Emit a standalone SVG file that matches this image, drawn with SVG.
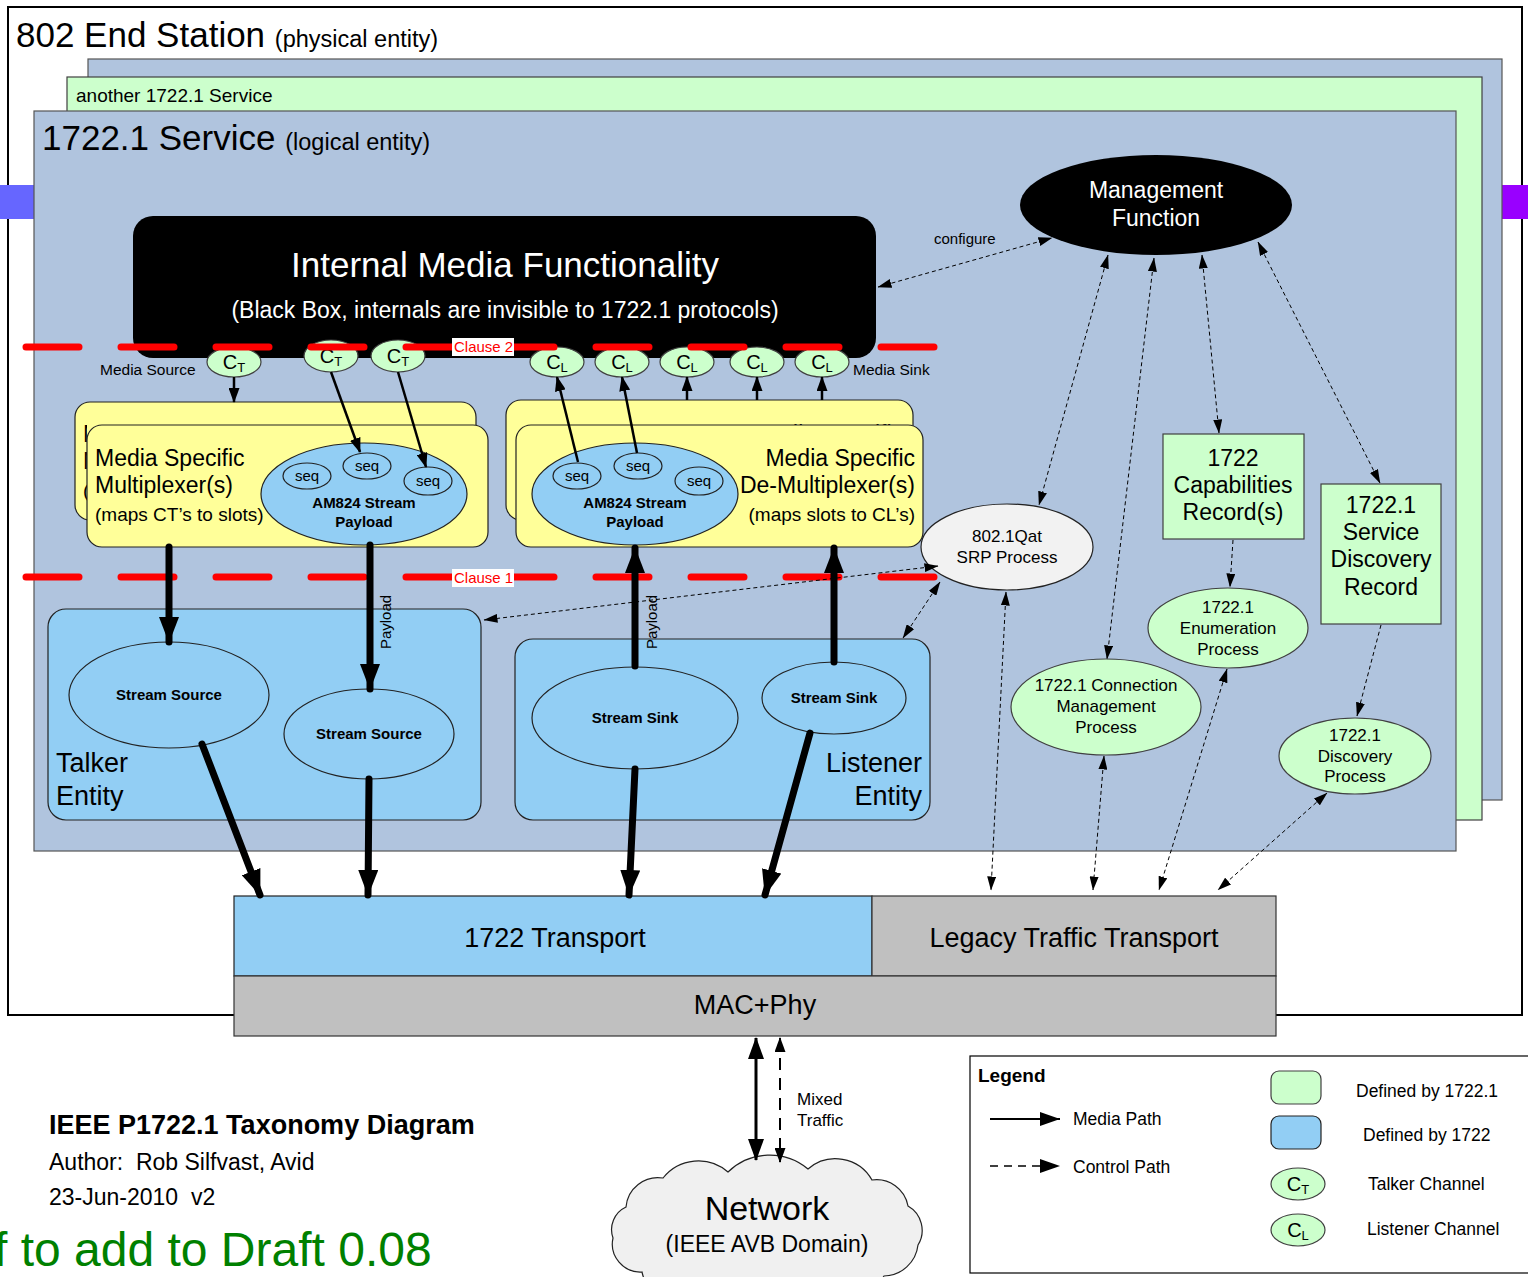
<svg xmlns="http://www.w3.org/2000/svg" width="1528" height="1277" viewBox="0 0 1528 1277">
<defs>
<style>
text{font-family:"Liberation Sans",Arial,sans-serif;fill:#000}
.svc{fill:#B0C4DE;stroke:#555;stroke-width:1.2}
.grn{fill:#CCFFCC;stroke:#404040;stroke-width:1.2}
.yel{fill:#FFFF99;stroke:#222;stroke-width:1.2}
.blu{fill:#92CEF4;stroke:#222;stroke-width:1.2}
.gry{fill:#C0C0C0;stroke:#333;stroke-width:1.2}
.ctrl{fill:none;stroke:#000;stroke-width:1;stroke-dasharray:4 3}
.thick{fill:none;stroke:#000;stroke-width:7;stroke-linecap:round}
.med{fill:none;stroke:#000;stroke-width:2.5}
.red{fill:none;stroke:#FF0000;stroke-width:7;stroke-linecap:round;stroke-dasharray:53 42}
.b{font-weight:bold}
.ch{font-size:20px;text-anchor:middle}
.sub{font-size:13px}
.mid{text-anchor:middle}
.end{text-anchor:end}
</style>
<clipPath id="muxBackClip"><rect x="70" y="398" width="17" height="130"/></clipPath>
<marker id="mThick" markerUnits="userSpaceOnUse" viewBox="0 0 26 20" refX="25" refY="10" markerWidth="26" markerHeight="20" orient="auto-start-reverse"><path d="M0,0 L26,10 L0,20 z" fill="#000"/></marker>
<marker id="mMed" markerUnits="userSpaceOnUse" viewBox="0 0 15 11" refX="14" refY="5.5" markerWidth="15" markerHeight="11" orient="auto-start-reverse"><path d="M0,0 L15,5.5 L0,11 z" fill="#000"/></marker>
<marker id="mCtl" markerUnits="userSpaceOnUse" viewBox="0 0 14 9" refX="13.5" refY="4.5" markerWidth="14" markerHeight="9" orient="auto-start-reverse"><path d="M0,0 L14,4.5 L0,9 z" fill="#000"/></marker>
<marker id="mBig" markerUnits="userSpaceOnUse" viewBox="0 0 22 16" refX="21" refY="8" markerWidth="22" markerHeight="16" orient="auto-start-reverse"><path d="M0,0 L22,8 L0,16 z" fill="#000"/></marker>
<marker id="mLeg" markerUnits="userSpaceOnUse" viewBox="0 0 20 14" refX="20" refY="7" markerWidth="20" markerHeight="14" orient="auto"><path d="M0,0 L20,7 L0,14 z" fill="#000"/></marker>
</defs>

<rect x="0" y="0" width="1528" height="1277" fill="#FFFFFF"/>

<g id="end-station">
<rect x="8" y="7" width="1514" height="1008" fill="#FFFFFF" stroke="#000" stroke-width="2"/>
<rect x="0" y="185" width="34" height="34" fill="#6666FF"/>
<rect x="1502" y="185" width="26" height="34" fill="#9900FF"/>
<text x="16" y="47" font-size="35">802 End Station <tspan font-size="23.5">(physical entity)</tspan></text>
</g>

<g id="service-back">
<rect x="88" y="59" width="1414" height="741" class="svc"/>
</g>
<g id="service-another">
<rect x="67" y="77" width="1415" height="743" class="grn"/>
<text x="76" y="102" font-size="19">another 1722.1 Service</text>
</g>
<g id="service-main">
<rect x="34" y="111" width="1422" height="740" class="svc"/>
<text x="42" y="150" font-size="35">1722.1 Service <tspan font-size="23.5">(logical entity)</tspan></text>
</g>

<g id="internal-media">
<rect x="133" y="216" width="743" height="142" rx="20" fill="#000"/>
<text x="505" y="277" font-size="35" class="mid" style="fill:#FFF">Internal Media Functionality</text>
<text x="505" y="318" font-size="23" class="mid" style="fill:#FFF">(Black Box, internals are invisible to 1722.1 protocols)</text>
</g>

<g id="mux-back">
<rect x="75" y="402" width="401" height="118" rx="15" class="yel"/>
<g clip-path="url(#muxBackClip)">
<text x="83" y="442" font-size="23">Media Specific</text>
<text x="83" y="469" font-size="23">Multiplexer(s)</text>
<text x="83" y="497" font-size="19">(maps CT’s to slots)</text>
</g>
</g>
<g id="mux">
<rect x="87" y="425" width="401" height="122" rx="15" class="yel"/>
<text x="95" y="466" font-size="23">Media Specific</text>
<text x="95" y="493" font-size="23">Multiplexer(s)</text>
<text x="95" y="521" font-size="19">(maps CT’s to slots)</text>
</g>
<g id="mux-payload">
<ellipse cx="364" cy="494" rx="103" ry="51" class="blu"/>
<ellipse cx="307" cy="476" rx="24" ry="13" class="blu"/>
<ellipse cx="367" cy="466" rx="24" ry="13" class="blu"/>
<ellipse cx="428" cy="481" rx="24" ry="14" class="blu"/>
<text x="307" y="481" font-size="15" class="mid">seq</text>
<text x="367" y="471" font-size="15" class="mid">seq</text>
<text x="428" y="486" font-size="15" class="mid">seq</text>
<text x="364" y="508" font-size="15" class="mid b">AM824 Stream</text>
<text x="364" y="527" font-size="15" class="mid b">Payload</text>
</g>

<g id="demux-back">
<rect x="506" y="400" width="407" height="120" rx="15" class="yel"/>
<text x="903" y="442" font-size="23" class="end">Media Specific</text>
</g>
<g id="demux">
<rect x="516" y="425" width="407" height="122" rx="15" class="yel"/>
<text x="915" y="466" font-size="23" class="end">Media Specific</text>
<text x="915" y="493" font-size="23" class="end">De-Multiplexer(s)</text>
<text x="915" y="521" font-size="19" class="end">(maps slots to CL’s)</text>
</g>
<g id="demux-payload">
<ellipse cx="635" cy="494" rx="103" ry="51" class="blu"/>
<ellipse cx="577" cy="476" rx="24" ry="13" class="blu"/>
<ellipse cx="638" cy="466" rx="24" ry="13" class="blu"/>
<ellipse cx="699" cy="481" rx="24" ry="14" class="blu"/>
<text x="577" y="481" font-size="15" class="mid">seq</text>
<text x="638" y="471" font-size="15" class="mid">seq</text>
<text x="699" y="486" font-size="15" class="mid">seq</text>
<text x="635" y="508" font-size="15" class="mid b">AM824 Stream</text>
<text x="635" y="527" font-size="15" class="mid b">Payload</text>
</g>

<g id="talker-channels">
<ellipse cx="234" cy="362" rx="27" ry="15" class="grn"/>
<ellipse cx="331" cy="356" rx="27" ry="16" class="grn"/>
<ellipse cx="398" cy="356" rx="27" ry="16" class="grn"/>
<text x="234" y="369" class="ch">C<tspan class="sub" dy="3">T</tspan></text>
<text x="331" y="363" class="ch">C<tspan class="sub" dy="3">T</tspan></text>
<text x="398" y="363" class="ch">C<tspan class="sub" dy="3">T</tspan></text>
<text x="100" y="375" font-size="15.5">Media Source</text>
</g>
<g id="listener-channels">
<ellipse cx="557" cy="362" rx="27" ry="15" class="grn"/>
<ellipse cx="622" cy="362" rx="27" ry="15" class="grn"/>
<ellipse cx="687" cy="362" rx="27" ry="15" class="grn"/>
<ellipse cx="757" cy="362" rx="27" ry="15" class="grn"/>
<ellipse cx="822" cy="362" rx="27" ry="15" class="grn"/>
<text x="557" y="369" class="ch">C<tspan class="sub" dy="3">L</tspan></text>
<text x="622" y="369" class="ch">C<tspan class="sub" dy="3">L</tspan></text>
<text x="687" y="369" class="ch">C<tspan class="sub" dy="3">L</tspan></text>
<text x="757" y="369" class="ch">C<tspan class="sub" dy="3">L</tspan></text>
<text x="822" y="369" class="ch">C<tspan class="sub" dy="3">L</tspan></text>
<text x="853" y="375" font-size="15.5">Media Sink</text>
</g>

<g id="talker-entity">
<rect x="48" y="609" width="433" height="211" rx="18" class="blu"/>
<ellipse cx="169" cy="695" rx="100" ry="53" class="blu"/>
<ellipse cx="369" cy="734" rx="85" ry="45" class="blu"/>
<text x="169" y="700" font-size="15" class="mid b">Stream Source</text>
<text x="369" y="739" font-size="15" class="mid b">Stream Source</text>
<text x="56" y="772" font-size="27">Talker</text>
<text x="56" y="805" font-size="27">Entity</text>
</g>
<g id="listener-entity">
<rect x="515" y="639" width="415" height="181" rx="18" class="blu"/>
<ellipse cx="635" cy="718" rx="103" ry="51" class="blu"/>
<ellipse cx="834" cy="698" rx="72" ry="36" class="blu"/>
<text x="635" y="723" font-size="15" class="mid b">Stream Sink</text>
<text x="834" y="703" font-size="15" class="mid b">Stream Sink</text>
<text x="922" y="772" font-size="27" class="end">Listener</text>
<text x="922" y="805" font-size="27" class="end">Entity</text>
</g>

<g id="management-function">
<ellipse cx="1156" cy="205" rx="136" ry="50" fill="#000"/>
<text x="1156" y="198" font-size="23" class="mid" style="fill:#FFF">Management</text>
<text x="1156" y="226" font-size="23" class="mid" style="fill:#FFF">Function</text>
</g>
<g id="srp">
<ellipse cx="1007" cy="547" rx="86" ry="43" fill="#F2F2F2" stroke="#222" stroke-width="1.2"/>
<text x="1007" y="542" font-size="17" class="mid">802.1Qat</text>
<text x="1007" y="563" font-size="17" class="mid">SRP Process</text>
</g>
<g id="capabilities">
<rect x="1163" y="434" width="141" height="105" class="grn"/>
<text x="1233" y="466" font-size="23" class="mid">1722</text>
<text x="1233" y="493" font-size="23" class="mid">Capabilities</text>
<text x="1233" y="520" font-size="23" class="mid">Record(s)</text>
</g>
<g id="service-discovery-record">
<rect x="1321" y="484" width="120" height="140" class="grn"/>
<text x="1381" y="513" font-size="23" class="mid">1722.1</text>
<text x="1381" y="540" font-size="23" class="mid">Service</text>
<text x="1381" y="567" font-size="23" class="mid">Discovery</text>
<text x="1381" y="595" font-size="23" class="mid">Record</text>
</g>
<g id="enumeration">
<ellipse cx="1228" cy="628" rx="80" ry="40" class="grn"/>
<text x="1228" y="613" font-size="17" class="mid">1722.1</text>
<text x="1228" y="634" font-size="17" class="mid">Enumeration</text>
<text x="1228" y="655" font-size="17" class="mid">Process</text>
</g>
<g id="connection-management">
<ellipse cx="1106" cy="707" rx="95" ry="48" class="grn"/>
<text x="1106" y="691" font-size="17" class="mid">1722.1 Connection</text>
<text x="1106" y="712" font-size="17" class="mid">Management</text>
<text x="1106" y="733" font-size="17" class="mid">Process</text>
</g>
<g id="discovery">
<ellipse cx="1355" cy="756" rx="76" ry="38" class="grn"/>
<text x="1355" y="741" font-size="17" class="mid">1722.1</text>
<text x="1355" y="762" font-size="17" class="mid">Discovery</text>
<text x="1355" y="782" font-size="17" class="mid">Process</text>
</g>

<g id="transport">
<rect x="234" y="896" width="638" height="80" class="blu"/>
<rect x="872" y="896" width="404" height="80" class="gry"/>
<rect x="234" y="976" width="1042" height="60" class="gry"/>
<text x="555" y="947" font-size="27" class="mid">1722 Transport</text>
<text x="1074" y="947" font-size="27" class="mid">Legacy Traffic Transport</text>
<text x="755" y="1014" font-size="27" class="mid">MAC+Phy</text>
</g>

<g id="clauses">
<line x1="26" y1="347" x2="936" y2="347" class="red"/>
<line x1="26" y1="577" x2="936" y2="577" class="red"/>
<rect x="452" y="338" width="62" height="18" fill="#FFF"/>
<text x="454" y="352" font-size="15" style="fill:#FF0000">Clause 2</text>
<rect x="452" y="569" width="62" height="18" fill="#FFF"/>
<text x="454" y="583" font-size="15" style="fill:#FF0000">Clause 1</text>
</g>

<g id="network">
<path d="M626,1207 A32,32 0 0 1 663,1178 A45,45 0 0 1 728,1172 A60,60 0 0 1 808,1169 A42,42 0 0 1 872,1180 A32,32 0 0 1 908,1206 A28,28 0 0 1 918,1245 A35,35 0 0 1 884,1276 A60,60 0 0 1 800,1292 A60,60 0 0 1 720,1292 A45,45 0 0 1 642,1272 A28,28 0 0 1 613,1238 A25,25 0 0 1 626,1207 Z" fill="#F0F0F0" stroke="#222" stroke-width="1.2"/>
<text x="767" y="1220" font-size="34" class="mid">Network</text>
<text x="767" y="1252" font-size="23" class="mid">(IEEE AVB Domain)</text>
</g>

<g id="connectors">
<line x1="234" y1="377" x2="234" y2="402" class="med" stroke-width="2" marker-end="url(#mMed)"/>
<line x1="331" y1="372" x2="360" y2="452" class="med" marker-end="url(#mMed)"/>
<line x1="398" y1="372" x2="426" y2="467" class="med" marker-end="url(#mMed)"/>
<line x1="578" y1="462" x2="557" y2="377" class="med" marker-end="url(#mMed)"/>
<line x1="637" y1="453" x2="622" y2="377" class="med" marker-end="url(#mMed)"/>
<line x1="687" y1="400" x2="687" y2="377" class="med" stroke-width="2" marker-end="url(#mMed)"/>
<line x1="757" y1="400" x2="757" y2="377" class="med" stroke-width="2" marker-end="url(#mMed)"/>
<line x1="822" y1="400" x2="822" y2="377" class="med" stroke-width="2" marker-end="url(#mMed)"/>

<line x1="169" y1="547" x2="169" y2="642" class="thick" marker-end="url(#mThick)"/>
<line x1="370" y1="545" x2="370" y2="689" class="thick" marker-end="url(#mThick)"/>
<line x1="635" y1="666" x2="635" y2="548" class="thick" marker-end="url(#mThick)"/>
<line x1="834" y1="662" x2="834" y2="548" class="thick" marker-end="url(#mThick)"/>
<line x1="202" y1="744" x2="260" y2="895" class="thick" marker-end="url(#mThick)"/>
<line x1="369" y1="779" x2="368" y2="895" class="thick" marker-end="url(#mThick)"/>
<line x1="635" y1="769" x2="629" y2="895" class="thick" marker-end="url(#mThick)"/>
<line x1="810" y1="733" x2="765" y2="895" class="thick" marker-end="url(#mThick)"/>
<text transform="translate(391,622) rotate(-90)" font-size="15" class="mid">Payload</text>
<text transform="translate(657,622) rotate(-90)" font-size="15" class="mid">Payload</text>

<line x1="878" y1="287" x2="1052" y2="238" class="ctrl" marker-start="url(#mCtl)" marker-end="url(#mCtl)"/>
<text x="934" y="244" font-size="15">configure</text>
<line x1="1108" y1="255" x2="1039" y2="505" class="ctrl" marker-start="url(#mCtl)" marker-end="url(#mCtl)"/>
<line x1="1154" y1="258" x2="1107" y2="659" class="ctrl" marker-start="url(#mCtl)" marker-end="url(#mCtl)"/>
<line x1="1202" y1="255" x2="1219" y2="433" class="ctrl" marker-start="url(#mCtl)" marker-end="url(#mCtl)"/>
<line x1="1258" y1="242" x2="1380" y2="483" class="ctrl" marker-start="url(#mCtl)" marker-end="url(#mCtl)"/>
<line x1="1233" y1="540" x2="1230" y2="587" class="ctrl" marker-end="url(#mCtl)"/>
<line x1="1381" y1="625" x2="1357" y2="716" class="ctrl" marker-end="url(#mCtl)"/>
<line x1="1006" y1="592" x2="991" y2="890" class="ctrl" marker-start="url(#mCtl)" marker-end="url(#mCtl)"/>
<line x1="1104" y1="756" x2="1093" y2="890" class="ctrl" marker-start="url(#mCtl)" marker-end="url(#mCtl)"/>
<line x1="1227" y1="669" x2="1159" y2="890" class="ctrl" marker-start="url(#mCtl)" marker-end="url(#mCtl)"/>
<line x1="1327" y1="793" x2="1218" y2="890" class="ctrl" marker-start="url(#mCtl)" marker-end="url(#mCtl)"/>
<line x1="938" y1="566" x2="484" y2="620" class="ctrl" marker-start="url(#mCtl)" marker-end="url(#mCtl)"/>
<line x1="940" y1="582" x2="903" y2="638" class="ctrl" marker-start="url(#mCtl)" marker-end="url(#mCtl)"/>

<line x1="756" y1="1038" x2="756" y2="1160" stroke="#000" stroke-width="3" marker-start="url(#mBig)" marker-end="url(#mBig)"/>
<line x1="780" y1="1038" x2="780" y2="1162" stroke="#000" stroke-width="2" stroke-dasharray="12 8" marker-start="url(#mMed)" marker-end="url(#mMed)"/>
<text x="797" y="1105" font-size="17">Mixed</text>
<text x="797" y="1126" font-size="17">Traffic</text>
</g>

<g id="title-block">
<text x="49" y="1134" font-size="27" class="b">IEEE P1722.1 Taxonomy Diagram</text>
<text x="49" y="1170" font-size="23" xml:space="preserve">Author:  Rob Silfvast, Avid</text>
<text x="49" y="1205" font-size="23" xml:space="preserve">23-Jun-2010  v2</text>
<text x="-6" y="1266" font-size="48" style="fill:#008000">f to add to Draft 0.08</text>
</g>

<g id="legend">
<rect x="970" y="1056" width="570" height="217" fill="#FFF" stroke="#000" stroke-width="1.2"/>
<text x="978" y="1082" font-size="19" class="b">Legend</text>
<line x1="990" y1="1119" x2="1060" y2="1119" stroke="#000" stroke-width="2" marker-end="url(#mLeg)"/>
<text x="1073" y="1125" font-size="17.5">Media Path</text>
<line x1="990" y1="1166" x2="1060" y2="1166" stroke="#000" stroke-width="1.5" stroke-dasharray="8 6" marker-end="url(#mLeg)"/>
<text x="1073" y="1173" font-size="17.5">Control Path</text>
<rect x="1271" y="1071" width="50" height="33" rx="8" class="grn"/>
<rect x="1271" y="1116" width="50" height="33" rx="8" class="blu"/>
<ellipse cx="1298" cy="1184" rx="27" ry="16" class="grn"/>
<ellipse cx="1298" cy="1230" rx="27" ry="16" class="grn"/>
<text x="1298" y="1191" class="ch">C<tspan class="sub" dy="3">T</tspan></text>
<text x="1298" y="1237" class="ch">C<tspan class="sub" dy="3">L</tspan></text>
<text x="1356" y="1097" font-size="17.5">Defined by 1722.1</text>
<text x="1363" y="1141" font-size="17.5">Defined by 1722</text>
<text x="1368" y="1190" font-size="17.5">Talker Channel</text>
<text x="1367" y="1235" font-size="17.5">Listener Channel</text>
</g>
</svg>
